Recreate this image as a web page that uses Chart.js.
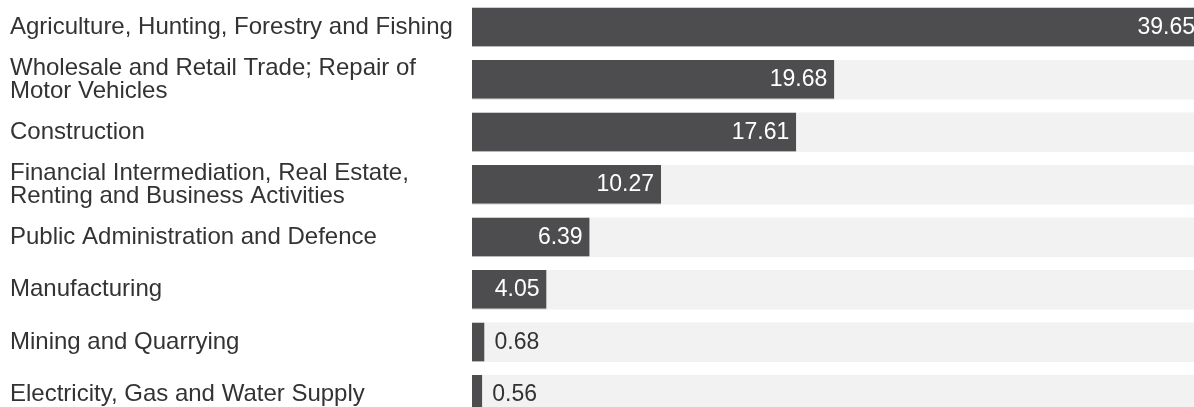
<!DOCTYPE html>
<html>
<head>
<meta charset="utf-8">
<script src="https://cdn.jsdelivr.net/npm/chart.js@4/dist/chart.umd.min.js"></script>
<style>
  html, body { margin: 0; padding: 0; background: #fff; overflow: hidden; }
  #wrap { position: relative; width: 1202px; height: 421px; }
</style>
</head>
<body>
<div id="wrap"><canvas id="chart"></canvas></div>
<script>
const sectors = [
  'Agriculture, Hunting, Forestry and Fishing',
  ['Wholesale and Retail Trade; Repair of', 'Motor Vehicles'],
  'Construction',
  ['Financial Intermediation, Real Estate,', 'Renting and Business Activities'],
  'Public Administration and Defence',
  'Manufacturing',
  'Mining and Quarrying',
  'Electricity, Gas and Water Supply',
];
const shares = [39.65, 19.68, 17.61, 10.27, 6.39, 4.05, 0.68, 0.56];

const maxShare = Math.max(...shares);
const track = shares.map(() => maxShare); // light grey background rows

// value labels: inside the bar in white, or just outside in dark grey when the bar is short
const valueLabels = {
  id: 'valueLabels',
  afterDatasetsDraw(chart) {
    const ctx = chart.ctx;
    const meta = chart.getDatasetMeta(0);
    ctx.save();
    ctx.font = '23px "Liberation Sans", Arial, sans-serif';
    ctx.textBaseline = 'middle';
    meta.data.forEach((bar, i) => {
      const txt = shares[i].toFixed(2);
      if (bar.x - bar.base > 60) {
        ctx.fillStyle = '#ffffff';
        ctx.textAlign = 'right';
        ctx.fillText(txt, bar.x - 7, bar.y);
      } else {
        ctx.fillStyle = '#333333';
        ctx.textAlign = 'left';
        ctx.fillText(txt, bar.x + 10, bar.y);
      }
    });
    ctx.restore();
  },
};

new Chart(document.getElementById('chart'), {
  type: 'bar',
  data: {
    labels: sectors,
    datasets: [
      {
        data: shares,
        backgroundColor: '#4d4d4f',
        borderColor: '#b8b8b8',
        borderWidth: { top: 0, right: 0, bottom: 1, left: 0 },
        borderSkipped: false,
        barPercentage: 0.75,
        categoryPercentage: 1,
        grouped: false,
        order: 0,
      },
      {
        data: track,
        backgroundColor: '#f2f2f2',
        borderWidth: 0,
        barPercentage: 0.75,
        categoryPercentage: 1,
        grouped: false,
        order: 1,
      },
    ],
  },
  options: {
    indexAxis: 'y',
    responsive: true,
    maintainAspectRatio: false,
    animation: false,
    layout: { padding: { left: 10, top: 1, right: 0, bottom: 0 } },
    scales: {
      x: {
        display: false,
        min: 0,
        max: maxShare,
      },
      y: {
        grid: { display: false },
        border: { display: false },
        ticks: {
          crossAlign: 'far',
          padding: 0,
          autoSkip: false,
          color: '#333333',
          font: { family: '"Liberation Sans", Arial, sans-serif', size: 24, lineHeight: 0.97 },
        },
        afterFit: (scale) => {
          scale.width = 462;
          // no extra room for half-labels above/below the rows
          scale.paddingTop = 0;
          scale.paddingBottom = 0;
        },
      },
    },
    plugins: {
      legend: { display: false },
      tooltip: { enabled: false },
    },
  },
  plugins: [valueLabels],
});
</script>
</body>
</html>
